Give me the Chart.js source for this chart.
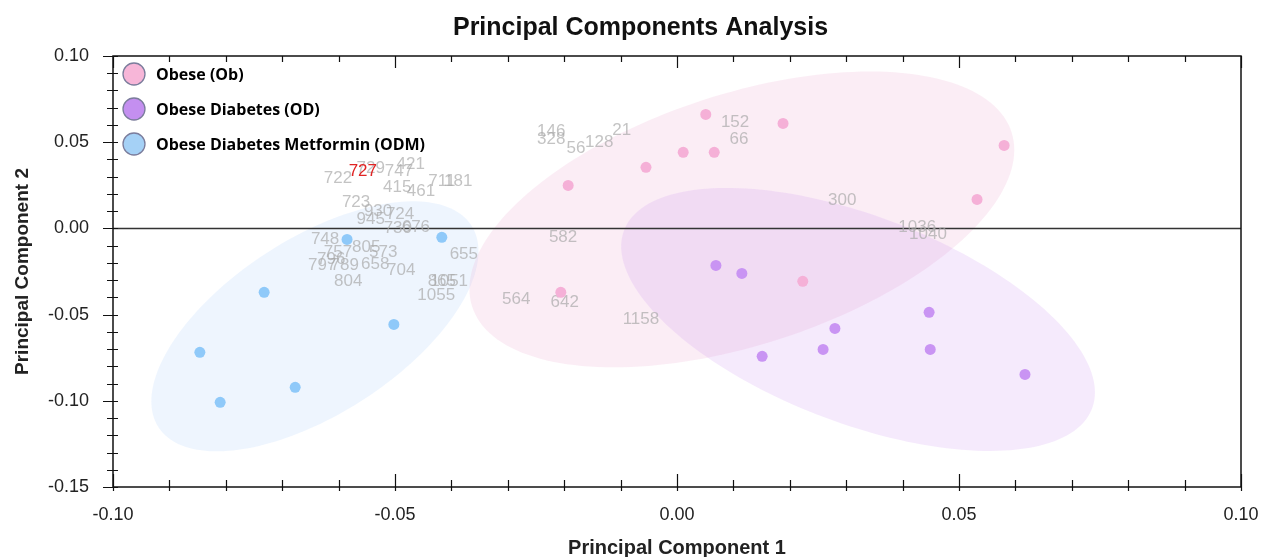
<!DOCTYPE html>
<html>
<head>
<meta charset="utf-8">
<title>Principal Components Analysis</title>
<script src="https://cdn.jsdelivr.net/npm/chart.js@4.4.1/dist/chart.umd.min.js"></script>
<style>
  html, body { margin: 0; padding: 0; background: #fff; }
  #wrap { width: 1261px; height: 557px; }
</style>
</head>
<body>
<div id="wrap"><canvas id="pca" width="1261" height="557"></canvas></div>
<script>
// Grupos
const GROUPS = ['Obese (Ob)', 'Obese Diabetes (OD)', 'Obese Diabetes Metformin (ODM)'];

// Scores (PC1 / PC2) por grupo
const OB_PC1 = [0.0051, 0.0188, 0.0580, 0.0011, 0.0066, -0.0055, -0.0193, 0.0532, 0.0223, -0.0206];
const OB_PC2 = [0.0661, 0.0609, 0.0481, 0.0441, 0.0441, 0.0354, 0.0249, 0.0168, -0.0307, -0.0371];
const OD_PC1 = [0.0069, 0.0115, 0.0447, 0.0280, 0.0259, 0.0449, 0.0151, 0.0617];
const OD_PC2 = [-0.0215, -0.0261, -0.0487, -0.0580, -0.0702, -0.0702, -0.0742, -0.0847];
const ODM_PC1 = [-0.0585, -0.0417, -0.0732, -0.0502, -0.0846, -0.0677, -0.0810];
const ODM_PC2 = [-0.0064, -0.0052, -0.0371, -0.0557, -0.0719, -0.0922, -0.1009];

// Elipses de confianza (Ob, OD, ODM): centro, semiejes en x / y, correlación
const ELL_CX = [0.0115, 0.0321, -0.0642];
const ELL_CY = [0.0052, -0.0528, -0.0568];
const ELL_SX = [0.0483, 0.0420, 0.0290];
const ELL_SY = [0.0858, 0.0763, 0.0725];
const ELL_R  = [0.47, -0.555, 0.60];

// Etiquetas de variables (texto gris)
const LABEL_TEXT = ['722', '729', '747', '421', '415', '461', '711', '181', '723', '930', '724', '945', '730', '676',
  '748', '805', '757', '796', '797', '789', '658', '573', '704', '804', '655', '865', '1051', '1055',
  '146', '328', '56', '128', '21', '152', '66', '582', '564', '642', '1158', '300', '1036', '1040', '727'];
const LABEL_X = [-0.0601, -0.0543, -0.0493, -0.0472, -0.0496, -0.0454, -0.0417, -0.0388, -0.0569, -0.0530, -0.0491, -0.0543, -0.0495, -0.0463,
  -0.0624, -0.0551, -0.0601, -0.0613, -0.0629, -0.0589, -0.0535, -0.0521, -0.0489, -0.0583, -0.0378, -0.0417, -0.0404, -0.0427,
  -0.0223, -0.0223, -0.0179, -0.0138, -0.0098, 0.0103, 0.0110, -0.0202, -0.0285, -0.0199, -0.0064, 0.0293, 0.0426, 0.0445, -0.0557];
const LABEL_Y = [0.0290, 0.0348, 0.0331, 0.0371, 0.0238, 0.0215, 0.0273, 0.0273, 0.0151, 0.0099, 0.0081, 0.0052, 0.0000, 0.0006,
  -0.0064, -0.0110, -0.0139, -0.0180, -0.0215, -0.0215, -0.0209, -0.0139, -0.0244, -0.0307, -0.0151, -0.0307, -0.0307, -0.0389,
  0.0563, 0.0516, 0.0464, 0.0499, 0.0568, 0.0615, 0.0516, -0.0052, -0.0412, -0.0429, -0.0528, 0.0162, 0.0006, -0.0035, 0.0331];
const HIGHLIGHT = '727';

// Colores
const POINT_COLORS = ['#f5b0d7', '#c994f3', '#8fc9f9'];
const LEGEND_COLORS = ['#f7b6d8', '#c48ff0', '#a5d1f6'];
const ELL_FILL = ['rgba(240, 180, 215, 0.24)', 'rgba(200, 140, 240, 0.18)', 'rgba(140, 190, 245, 0.15)'];
const ELL_ORDER = [2, 0, 1];

const FONT = '"Liberation Sans", Arial, sans-serif';

const toPoints = (xs, ys) => xs.map((v, i) => ({ x: v, y: ys[i] }));
const isMajor = v => Math.abs(Math.round(v * 100)) % 5 === 0;
const tickLabel = v => isMajor(v) ? (Math.abs(v) < 1e-9 ? 0 : v).toFixed(2) : '';

const pcaDecor = {
  id: 'pcaDecor',
  beforeDatasetsDraw(chart) {
    const { ctx, chartArea: a, scales: { x, y } } = chart;
    ctx.save();
    ctx.beginPath();
    ctx.rect(a.left, a.top, a.right - a.left, a.bottom - a.top);
    ctx.clip();

    ELL_ORDER.forEach(i => {
      const q = Math.sqrt(1 - ELL_R[i] * ELL_R[i]);
      ctx.beginPath();
      for (let k = 0; k <= 180; k++) {
        const t = k / 180 * Math.PI * 2;
        const px = x.getPixelForValue(ELL_CX[i] + ELL_SX[i] * Math.cos(t));
        const py = y.getPixelForValue(ELL_CY[i] + ELL_SY[i] * (ELL_R[i] * Math.cos(t) + q * Math.sin(t)));
        if (k) ctx.lineTo(px, py); else ctx.moveTo(px, py);
      }
      ctx.closePath();
      ctx.fillStyle = ELL_FILL[i];
      ctx.fill();
    });

    // línea del cero
    const y0 = y.getPixelForValue(0);
    ctx.strokeStyle = '#333';
    ctx.lineWidth = 1.5;
    ctx.beginPath();
    ctx.moveTo(a.left, y0);
    ctx.lineTo(a.right, y0);
    ctx.stroke();

    ctx.font = '17px ' + FONT;
    ctx.textAlign = 'center';
    ctx.textBaseline = 'middle';
    LABEL_TEXT.forEach((t, i) => {
      ctx.fillStyle = t === HIGHLIGHT ? '#e02424' : 'rgba(170, 170, 170, 0.7)';
      ctx.fillText(t, x.getPixelForValue(LABEL_X[i]), y.getPixelForValue(LABEL_Y[i]));
    });
    ctx.restore();
  },
  afterDraw(chart) {
    const { ctx, chartArea: a, scales: { x, y } } = chart;
    ctx.save();
    ctx.strokeStyle = '#111';
    ctx.lineWidth = 1.5;
    ctx.strokeRect(a.left, a.top, a.right - a.left, a.bottom - a.top);

    ctx.lineWidth = 1.2;
    ctx.beginPath();
    y.ticks.forEach(t => {
      const py = Math.round(y.getPixelForValue(t.value)) + 0.5;
      const m = isMajor(t.value);
      ctx.moveTo(a.left - (m ? 10 : 6), py);
      ctx.lineTo(a.left + 5, py);
    });
    x.ticks.forEach(t => {
      const px = Math.round(x.getPixelForValue(t.value)) + 0.5;
      const m = isMajor(t.value);
      ctx.moveTo(px, a.bottom - (m ? 13 : 7));
      ctx.lineTo(px, a.bottom + 4);
      ctx.moveTo(px, a.top);
      ctx.lineTo(px, a.top + (m ? 12 : 6));
    });
    ctx.stroke();

    // leyenda
    ctx.font = 'bold 16px "Open Sans", sans-serif';
    ctx.textAlign = 'left';
    ctx.textBaseline = 'middle';
    GROUPS.forEach((g, i) => {
      const cy = a.top + 18 + i * 35;
      ctx.beginPath();
      ctx.arc(a.left + 21, cy, 11, 0, Math.PI * 2);
      ctx.fillStyle = LEGEND_COLORS[i];
      ctx.fill();
      ctx.strokeStyle = '#7b7d9c';
      ctx.lineWidth = 1.3;
      ctx.stroke();
      ctx.fillStyle = '#000';
      ctx.fillText(g, a.left + 43, cy + 1);
    });
    ctx.restore();
  }
};

new Chart(document.getElementById('pca'), {
  type: 'scatter',
  data: {
    datasets: [
      { label: GROUPS[0], data: toPoints(OB_PC1, OB_PC2), backgroundColor: POINT_COLORS[0] },
      { label: GROUPS[1], data: toPoints(OD_PC1, OD_PC2), backgroundColor: POINT_COLORS[1] },
      { label: GROUPS[2], data: toPoints(ODM_PC1, ODM_PC2), backgroundColor: POINT_COLORS[2] }
    ]
  },
  options: {
    responsive: false,
    animation: false,
    layout: { padding: { top: 0, right: 0, bottom: 0, left: 20 } },
    elements: { point: { radius: 5.5, borderWidth: 0, pointStyle: 'circle' } },
    plugins: {
      legend: { display: false },
      tooltip: { enabled: false },
      title: {
        display: true,
        text: 'Principal Components Analysis',
        color: '#111',
        font: { family: FONT, size: 25, weight: 'bold' },
        padding: { top: 13, bottom: 13 }
      }
    },
    scales: {
      x: {
        type: 'linear',
        min: -0.1,
        max: 0.1,
        grid: { display: false, drawTicks: false },
        border: { display: false },
        ticks: {
          stepSize: 0.01, autoSkip: false, maxRotation: 0, padding: 17,
          color: '#222', font: { family: FONT, size: 18 }, callback: tickLabel
        },
        title: {
          display: true, text: 'Principal Component 1', color: '#222',
          font: { family: FONT, size: 20, weight: 'bold' }, padding: { top: 0, bottom: -3 }
        },
        afterFit: s => { s.height = 70; s.paddingLeft = 0; s.paddingRight = 20; }
      },
      y: {
        type: 'linear',
        min: -0.15,
        max: 0.1,
        grid: { display: false, drawTicks: false },
        border: { display: false },
        ticks: {
          stepSize: 0.01, autoSkip: false, padding: 24,
          color: '#222', font: { family: FONT, size: 18 }, callback: tickLabel
        },
        title: {
          display: true, text: 'Principal Component 2', color: '#222',
          font: { family: FONT, size: 19, weight: 'bold' }, padding: { top: -9, bottom: 0 }
        },
        afterFit: s => { s.width = 93; s.paddingTop = 0; s.paddingBottom = 0; }
      }
    }
  },
  plugins: [pcaDecor]
});
</script>
</body>
</html>
